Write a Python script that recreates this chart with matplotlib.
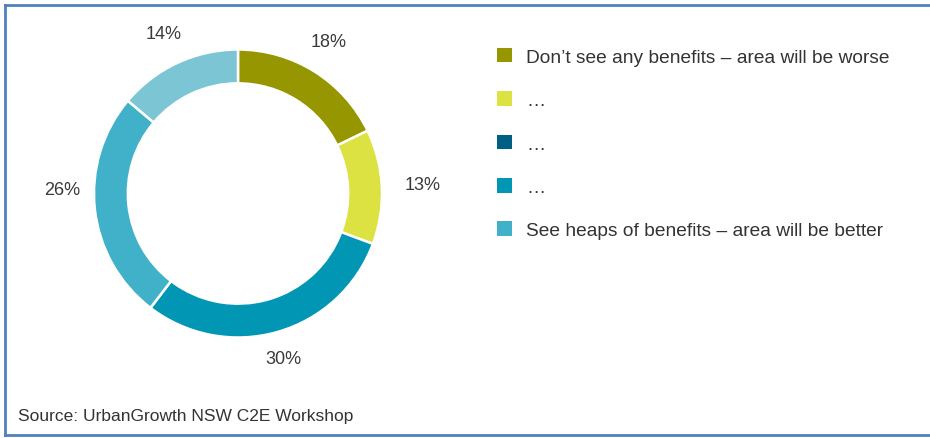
import matplotlib.pyplot as plt
from matplotlib.patches import Patch

# survey shares, clockwise from 12 o'clock
shares = [18, 13, 30, 26, 14]
slice_colors = ['#969600', '#dce241', '#0096b4', '#41b1c9', '#7bc5d4']

legend_labels = [
    'Don\u2019t see any benefits \u2013 area will be worse',
    '\u2026',
    '\u2026',
    '\u2026',
    'See heaps of benefits \u2013 area will be better',
]
legend_colors = ['#969600', '#dce241', '#005f85', '#0096b4', '#41b1c9']

source_note = 'Source: UrbanGrowth NSW C2E Workshop'

# small pixel nudges for the % labels (dx, dy), screen coords
label_nudge = [(-3, 3), (9, 1), (-3, 4), (-1, 23), (0, 1)]

W, H = 930, 439
fig = plt.figure(figsize=(W / 100, H / 100), dpi=100)
plt.rcParams['font.family'] = ['Liberation Sans', 'DejaVu Sans']

# donut: centre and radius in pixels
cx, cy, r = 238, 194.5, 144
ax = fig.add_axes([(cx - r) / W, 1 - (cy + r) / H, 2 * r / W, 2 * r / H])
wedges, texts = ax.pie(
    shares,
    colors=slice_colors,
    startangle=90,
    counterclock=False,
    radius=1.0,
    labels=[f'{v}%' for v in shares],
    labeldistance=1.22,
    wedgeprops=dict(width=0.235, edgecolor='white', linewidth=1.8),
    textprops=dict(fontsize=13, color='#3a3a3a'),
)
for t, (dx, dy) in zip(texts, label_nudge):
    x, y = t.get_position()
    t.set_position((x + dx / r, y + dy / r))
    t.set_horizontalalignment('center')
    t.set_verticalalignment('center')
ax.set_xlim(-1, 1)
ax.set_ylim(-1, 1)
ax.set_aspect('equal')
ax.axis('off')

handles = [Patch(facecolor=c, edgecolor='none') for c in legend_colors]
fig.legend(
    handles, legend_labels,
    loc='upper left', bbox_to_anchor=(497 / W, 1 - 49 / H),
    frameon=False, fontsize=13.8, labelcolor='#333333',
    handlelength=0.78, handleheight=0.78, handletextpad=0.75,
    labelspacing=1.33, borderaxespad=0, borderpad=0,
)

fig.text(18 / W, 1 - 417 / H, source_note, fontsize=12.5, color='#333333',
         va='center', ha='left')

# thin blue frame (top, left, bottom)
frame_color = '#4f81bd'
fig.add_artist(plt.Line2D([4.5 / W, 1.0], [1 - 5.5 / H, 1 - 5.5 / H],
                          color=frame_color, lw=2, transform=fig.transFigure))
fig.add_artist(plt.Line2D([4.5 / W, 4.5 / W], [1 - 5.5 / H, 1 - 436 / H],
                          color=frame_color, lw=2, transform=fig.transFigure))
fig.add_artist(plt.Line2D([4.5 / W, 1.0], [1 - 436 / H, 1 - 436 / H],
                          color=frame_color, lw=2, transform=fig.transFigure))

fig.savefig('out.png', dpi=100, facecolor='white')
